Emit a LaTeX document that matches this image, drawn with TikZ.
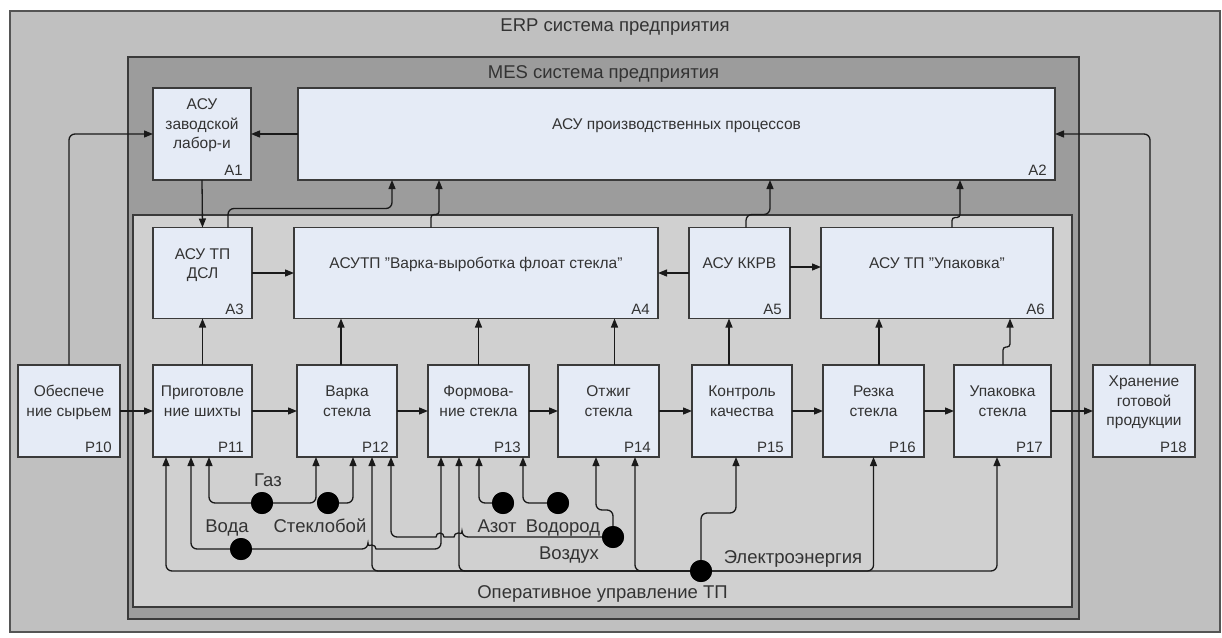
\documentclass[tikz,border=0pt]{standalone}
\usepackage{fontspec}
\setmainfont{Liberation Sans}
\usetikzlibrary{arrows.meta}
\definecolor{erpfill}{HTML}{C0C0C0}
\definecolor{mesfill}{HTML}{9C9C9C}
\definecolor{tpfill}{HTML}{D0D0D0}
\definecolor{boxfill}{HTML}{E5EBF6}
\definecolor{frame}{HTML}{555555}
\definecolor{boxline}{HTML}{3A3A3A}
\definecolor{linec}{HTML}{1A1A1A}
\definecolor{txtc}{HTML}{333333}
\newcommand\mkbox[7]{%
  \node[box, minimum width=#4pt, minimum height=#5pt] (#1) at (#2,#3) {};
  \node[txt] (#1t) at ([yshift=-37.5pt]#1.north) {\strut #6\strut};
  \node[idl] (#1id) at ([xshift=-8pt,yshift=4.5pt]#1.south east) {#7};
}
\begin{document}
\begin{tikzpicture}[x=1pt,y=-1pt,
  box/.style={draw=boxline, line width=1.3pt, fill=boxfill, inner sep=0, outer sep=0, anchor=north west},
  txt/.style={font=\fontsize{15.5}{19.5}\selectfont, text=txtc, align=center, inner sep=0},
  idl/.style={font=\fontsize{15}{18}\selectfont, text=txtc, inner sep=0, anchor=base east},
  big/.style={font=\fontsize{18.5}{22}\selectfont, text=txtc, inner sep=0, anchor=base},
  area/.style={line width=1.5pt, inner sep=0, outer sep=0, anchor=north west},
  conn/.style={draw=linec, line width=1.3pt, rounded corners=6pt},
  arr/.style={conn, -{Triangle[length=9pt,width=7pt]}},
  jog/.style={arr, rounded corners=3pt},
  dot/.style={circle, fill=black, minimum size=22pt, inner sep=0, outer sep=0},
]
\useasboundingbox (0,0) rectangle (1222,637);
\fill[white] (0,0) rectangle (1222,637);

% nested areas
\node[area, draw=frame, fill=erpfill, minimum width=1210pt, minimum height=621pt] (erp) at (10,11) {};
\node[big] (erpt) at (615,31.5) {ERP система предприятия};
\node[area, draw=boxline, fill=mesfill, minimum width=951pt, minimum height=562pt] (mes) at (128,57) {};
\node[big] (mest) at (603.5,78.5) {MES система предприятия};
\node[area, draw=boxline, fill=tpfill, minimum width=939pt, minimum height=392pt] (tp) at (133,215) {};
\node[big] (tpt) at (602.5,598.5) {Оперативное управление ТП};

% A boxes
\mkbox{A1}{153}{88}{98}{92}{АСУ\\заводской\\лабор-и}{A1}
\mkbox{A2}{298}{88}{757}{92}{АСУ производственных процессов}{A2}
\mkbox{A3}{153}{227.5}{99}{91}{АСУ ТП\\ДСЛ}{A3}
\mkbox{A4}{294}{227.5}{364}{91}{АСУТП "Варка-выроботка флоат стекла"}{A4}
\mkbox{A5}{689}{227.5}{101}{91}{АСУ ККРВ}{A5}
\mkbox{A6}{821}{227.5}{232}{91}{АСУ ТП "Упаковка"}{A6}

% P boxes
\mkbox{P10}{18}{365}{102}{92}{Обеспече\\ние сырьем}{P10}
\mkbox{P11}{153}{365}{99}{92}{Приготовле\\ние шихты}{P11}
\mkbox{P12}{297}{365}{100}{92}{Варка\\стекла}{P12}
\mkbox{P13}{428}{365}{101}{92}{Формова-\\ние стекла}{P13}
\mkbox{P14}{558}{365}{101}{92}{Отжиг\\стекла}{P14}
\mkbox{P15}{692}{365}{100}{92}{Контроль\\качества}{P15}
\mkbox{P16}{823}{365}{101}{92}{Резка\\стекла}{P16}
\mkbox{P17}{954}{365}{97}{92}{Упаковка\\стекла}{P17}
\mkbox{P18}{1093}{365}{102}{92}{Хранение\\готовой\\продукции}{P18}

% top connectors
\draw[arr] (P10.north) |- (A1.west);
\draw[arr] (A2.west) -- (A1.east);
\draw[arr] ([xshift=6pt]P18.north) |- (A2.east);
\draw[arr] (A1.south) -- (A3.north);
\draw[arr] ([xshift=25.5pt]A3.north) -- ++(0,-19) -| ([xshift=-284.5pt]A2.south);
\draw[jog] ([xshift=-45pt]A4.north) -- ++(0,-13) -| ([xshift=-237.5pt]A2.south);
\draw[arr] ([xshift=6.5pt]A5.north) -- ++(0,-13) -| ([xshift=93.5pt]A2.south);
\draw[jog] ([xshift=15pt]A6.north) -- ++(0,-10) -| ([xshift=283.5pt]A2.south);

\draw[arr] (A3.east) -- (A4.west);
\draw[arr] (A5.west) -- (A5.west -| A4.east);
\draw[arr] ([yshift=6pt]A5.east) -- ([yshift=6pt]A5.east -| A6.west);

% P -> A
\draw[arr] (P11.north) -- (P11.north |- A3.south);
\draw[arr] ([xshift=-6pt]P12.north) -- ([xshift=-6pt]P12.north |- A4.south);
\draw[arr] (P13.north) -- (P13.north |- A4.south);
\draw[arr] ([xshift=6pt]P14.north) -- ([xshift=6pt]P14.north |- A4.south);
\draw[arr] ([xshift=-13pt]P15.north) -- ([xshift=-13pt]P15.north |- A5.south);
\draw[arr] ([xshift=5.5pt]P16.north) -- ([xshift=5.5pt]P16.north |- A6.south);
\draw[jog] ([xshift=0.5pt]P17.north) -- ++(0,-18) -| ([xshift=73pt]A6.south);

% P row flow
\draw[arr] (P10.east) -- (P11.west);
\draw[arr] (P11.east) -- (P12.west);
\draw[arr] (P12.east) -- (P13.west);
\draw[arr] (P13.east) -- (P14.west);
\draw[arr] (P14.east) -- (P15.west);
\draw[arr] (P15.east) -- (P16.west);
\draw[arr] (P16.east) -- (P17.west);
\draw[arr] (P17.east) -- (P18.west);

% resource dots
\node[dot] (gas) at (262,503) {};
\node[dot] (cul) at (328,503) {};
\node[dot] (water) at (241,549) {};
\node[dot] (n2) at (503,503) {};
\node[dot] (h2) at (558,503) {};
\node[dot] (air) at (613,537) {};
\node[dot] (el) at (701,571) {};

\node[big] (gasl) at (268,486.5) {Газ};
\node[big] (cull) at (320,532.5) {Стеклобой};
\node[big] (waterl) at (227,532.5) {Вода};
\node[big] (n2l) at (497,532.5) {Азот};
\node[big] (h2l) at (563,532.5) {Водород};
\node[big] (airl) at (569,559.5) {Воздух};
\node[big] (ell) at (793,563.5) {Электроэнергия};

% resource connectors
\draw[arr] (gas.west) -| ([xshift=6.5pt]P11.south);
\draw[arr] (gas.east) -| ([xshift=-31pt]P12.south);
\draw[arr] (cul.east) -| ([xshift=6pt]P12.south);
\draw[arr] (water.west) -| ([xshift=-11.5pt]P11.south);
\draw[arr] (water.east) -- (368,549) [sharp corners] arc (180:360:4) [rounded corners=6pt] -| ([xshift=-37.5pt]P13.south);
\draw[arr] (air.west) -- (462,537) [sharp corners] arc (360:180:4) -- (444,537) arc (360:180:4) [rounded corners=6pt] -| ([xshift=44pt]P12.south);
\draw[arr] (air.north) -- ++(0,-16) -| ([xshift=-12.5pt]P14.south);
\draw[arr] (n2.west) -| ([xshift=0.5pt]P13.south);
\draw[arr] (h2.west) -| ([xshift=44.5pt]P13.south);

\draw[arr] (el.west) -| ([xshift=-36.5pt]P11.south);
\draw[arr] (el.west) -| ([xshift=25pt]P12.south);
\draw[arr] (el.west) -| ([xshift=-19.5pt]P13.south);
\draw[arr] (el.west) -| ([xshift=26.5pt]P14.south);
\draw[arr] (el.north) -- ++(0,-47) -| ([xshift=-6pt]P15.south);
\draw[arr] (el.east) -| (P16.south);
\draw[arr] (el.east) -| ([xshift=-5.5pt]P17.south);

% redraw dots on top
\foreach \d in {gas,cul,water,n2,h2,air,el}{\fill[black] (\d) circle (11);}
\end{tikzpicture}
\end{document}
